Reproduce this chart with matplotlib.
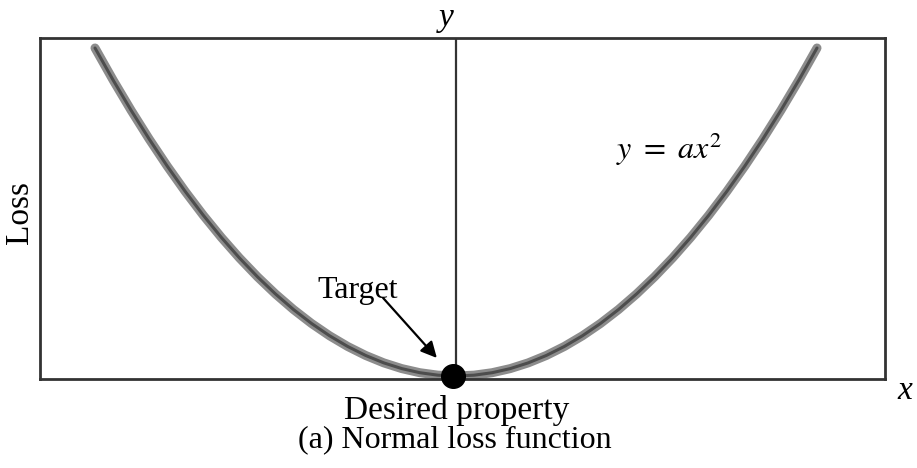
import matplotlib
matplotlib.use("Agg")
import matplotlib.pyplot as plt

x_pts = [-1.0, -0.95, -0.9, -0.85, -0.8, -0.75, -0.7, -0.65, -0.6, -0.55, -0.5,
         -0.45, -0.4, -0.35, -0.3, -0.25, -0.2, -0.15, -0.1, -0.05, 0.0,
         0.05, 0.1, 0.15, 0.2, 0.25, 0.3, 0.35, 0.4, 0.45, 0.5,
         0.55, 0.6, 0.65, 0.7, 0.75, 0.8, 0.85, 0.9, 0.95, 1.0]
loss_pts = [1.0, 0.9025, 0.81, 0.7225, 0.64, 0.5625, 0.49, 0.4225, 0.36, 0.3025, 0.25,
            0.2025, 0.16, 0.1225, 0.09, 0.0625, 0.04, 0.0225, 0.01, 0.0025, 0.0,
            0.0025, 0.01, 0.0225, 0.04, 0.0625, 0.09, 0.1225, 0.16, 0.2025, 0.25,
            0.3025, 0.36, 0.4225, 0.49, 0.5625, 0.64, 0.7225, 0.81, 0.9025, 1.0]
target = (-0.008, 0.0)

plt.rcParams['font.family'] = ['Liberation Serif', 'DejaVu Serif']

W, H = 917, 468
fig = plt.figure(figsize=(W / 100, H / 100), dpi=100)
ax = fig.add_axes([40 / W, 1 - 379 / H, 845 / W, 341 / H])

ax.set_xlim(-416 / 361, 429 / 361)
ax.set_ylim(-3 / 328, 1 + 10 / 328)

# thick grey curve with a darker core
ax.plot(x_pts, loss_pts, color='#8c8c8c', lw=6.5, solid_capstyle='round', solid_joinstyle='round')
ax.plot(x_pts, loss_pts, color='#4d4d4d', lw=2.2, solid_capstyle='round', solid_joinstyle='round')

ax.axvline(0, color='#333333', lw=1.6)
ax.plot(*target, 'o', color='black', markersize=17, clip_on=False, zorder=5)

for s in ax.spines.values():
    s.set_color('#333333')
    s.set_linewidth(2)
ax.set_xticks([])
ax.set_yticks([])

ax.annotate('', xy=(-0.053, 0.055), xytext=(-0.202, 0.238),
            arrowprops=dict(arrowstyle='-|>', color='black', lw=1.6,
                            mutation_scale=24, shrinkA=0, shrinkB=0))
ax.text(-0.271, 0.262, 'Target', fontsize=23, ha='center', va='center')
ax.text(0.59, 0.69, r'$y\ =\ ax^2$', fontsize=23, ha='center', va='center',
        math_fontfamily='stix')

fig.text(20 / W, 1 - 212 / H, 'Loss', rotation=90, fontsize=24, ha='center', va='center')
fig.text(446 / W, 1 - 18 / H, 'y', fontsize=24, style='italic', ha='center', va='center')
fig.text(905 / W, 1 - 391 / H, 'x', fontsize=24, style='italic', ha='center', va='center')
fig.text(457 / W, 1 - 410 / H, 'Desired property', fontsize=24, ha='center', va='center')
fig.text(455 / W, 1 - 440 / H, '(a) Normal loss function', fontsize=23, ha='center', va='center')

fig.savefig('out.png', dpi=100)
